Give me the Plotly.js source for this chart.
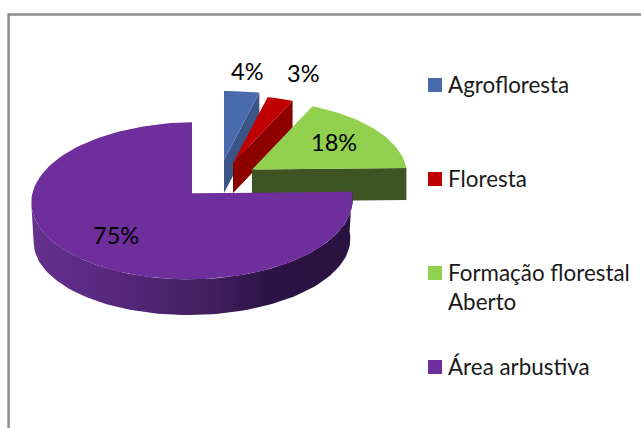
<!DOCTYPE html>
<html>
<head>
<meta charset="utf-8">
<script src="https://cdn.plot.ly/plotly-3.0.1.min.js"></script>
<style>html,body{margin:0;padding:0;background:#fff}#c{width:641px;height:428px}</style>
</head>
<body>
<div id="c"></div>
<script>
// ---- Data ----
const categories = ['Agrofloresta', 'Floresta', 'Formação florestal<br>Aberto', 'Área arbustiva'];
const values = [4, 3, 18, 75];
const topColors = ['#4A6AAE', '#C00000', '#92D050', '#6E2E9C'];
const sideColors = ['#3A5488', '#8C0000', '#3F5423', '#3a1858'];

// ---- Layout of the drawing (pixel-space axes) ----
const apexX = [224, 233, 252, 192];
const apexY = [160, 163, 169.5, 193.3];
const sliceScale = [0.97, 0.95, 0.965, 1];
const depth = [33, 30, 32, 40];
const labelX = [247, 303, 334, 116];
const labelY = [71, 73, 142, 235];
const legendX = [435, 435, 435, 435];
const legendY = [85, 179, 273, 367];
const legendTextY = [84, 178, 287, 366];
const FONT = 'Lato, Carlito, sans-serif';
const RX = 160, RY = 77.8, K = 0.0956, TILT = 0.01;

// Perspective projection of a point on the unit disc (angle clockwise from 12 o'clock)
function proj(i, deg, r, sx, sy, dy) {
  const a = deg * Math.PI / 180, X = r * Math.sin(a), Y = r * Math.cos(a), w = 1 + K * Y;
  const s = sliceScale[i], px = s * RX * X / w * sx;
  return [apexX[i] + px, apexY[i] + (dy || 0) - s * RY * Y / w * sy - TILT * px];
}
function arc(i, a0, a1, sx, sy, dy) {
  const pts = [], n = Math.max(2, Math.ceil(Math.abs(a1 - a0) / 2));
  for (let k = 0; k <= n; k++) pts.push(proj(i, a0 + (a1 - a0) * k / n, 1, sx, sy, dy));
  return pts;
}
function poly(pts, color, extra) {
  return Object.assign({
    x: pts.map(p => p[0]), y: pts.map(p => p[1]), mode: 'lines', fill: 'toself',
    fillcolor: color, line: {width: 0, color: color}, hoverinfo: 'skip', showlegend: false
  }, extra || {});
}

const total = values.reduce((a, b) => a + b, 0);
const traces = [];
let cum = 0;
values.forEach((v, i) => {
  const a0 = cum / total * 360, a1 = (cum + v) / total * 360;
  cum += v;
  const big = i === values.length - 1;
  if (big) {
    // outer rim of the large slice with its gradient shading, up to the left silhouette
    const silhouette = 270 - Math.asin(K) * 180 / Math.PI;
    const top = arc(i, 90, silhouette, 1, 1, 0);
    const bot = arc(i, silhouette, 90, 0.985, 0.95, depth[i]);
    traces.push(poly(top.concat(bot), sideColors[i], {
      fillgradient: {type: 'horizontal', colorscale: [[0, '#65308F'], [0.3, '#54267A'], [0.55, '#42205F'], [0.75, '#2C1245'], [1, '#2A1240']]}
    }));
  } else {
    // cut face (clockwise end of the slice) and, for the slice reaching 3 o'clock, its front
    const p = proj(i, a1, 1, 1, 1, 0);
    const pb = [p[0], p[1] + depth[i]];
    traces.push(poly([[apexX[i], apexY[i]], p, pb, [apexX[i], apexY[i] + depth[i]]], sideColors[i]));
  }
  const face = [[apexX[i], apexY[i]]].concat(arc(i, a0, a1, 1, 1, 0));
  traces.push(poly(face, topColors[i]));
});

// legend swatches
traces.push({
  x: legendX, y: legendY, mode: 'markers', hoverinfo: 'skip', showlegend: false,
  marker: {symbol: 'square', size: 14, color: topColors, line: {width: 0}}
});

const annotations = [];
values.forEach((v, i) => annotations.push({
  x: labelX[i], y: labelY[i], text: v + '%', showarrow: false,
  xanchor: 'center', yanchor: 'middle', font: {family: FONT, size: 23.5, color: '#000'}
}));
categories.forEach((c, i) => annotations.push({
  x: legendX[i] + 10.5, y: legendTextY[i], text: c, showarrow: false, align: 'left',
  xanchor: 'left', yanchor: 'middle', font: {family: FONT, size: 22.4, color: '#1a1a1a'}
}));

const layout = {
  width: 641, height: 428, margin: {l: 0, r: 0, t: 0, b: 0},
  paper_bgcolor: '#fff', plot_bgcolor: '#fff', showlegend: false,
  xaxis: {range: [0, 641], visible: false, fixedrange: true},
  yaxis: {range: [428, 0], visible: false, fixedrange: true},
  annotations: annotations,
  shapes: [{type: 'path', path: 'M 8.6 428 L 8.6 14.5 L 641 14.5', line: {color: '#8C8C8C', width: 2.5}, layer: 'below'}]
};
Plotly.newPlot('c', traces, layout, {displayModeBar: false, staticPlot: true});
</script>
</body>
</html>
